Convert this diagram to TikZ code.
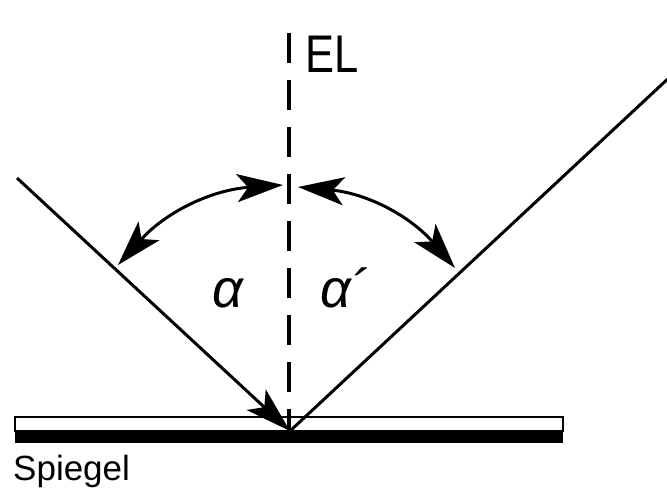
\documentclass[tikz,border=0pt]{standalone}
\usepackage{fontspec}
\setmainfont{Liberation Sans}
\usetikzlibrary{arrows.meta,calc}
\begin{document}
\begin{tikzpicture}[x=1pt,y=1pt,
  ray/.style={line width=3pt},
  bigtip/.style={-{Stealth[length=46pt,width=28pt,inset=11pt]}},
  bothtip/.style={{Stealth[length=46pt,width=28pt,inset=11pt]}-{Stealth[length=46pt,width=28pt,inset=11pt]}},
  normal/.style={line width=3.2pt,dash pattern=on 30pt off 17pt},
  lbl/.style={inner sep=0pt,anchor=base west}]
\useasboundingbox (0,0) rectangle (667,496);
\clip (0,0) rectangle (667,496);
% mirror
\fill[black] (15,53) rectangle (563,66);
\draw[line width=2.4pt,fill=white] (15,65) rectangle (563,79);
% points
\coordinate (R) at (290,65);
\coordinate (A) at (17,318);
\coordinate (B) at (672,421);
\coordinate (N) at (289,463);
\coordinate (L1) at (118,231);
\coordinate (L2) at (283,311);
\coordinate (R1) at (298,309);
\coordinate (R2) at (455,228);
% normal
\draw[normal] (N) -- (289,65);
% rays
\draw[ray,bigtip] (A) -- (R);
\draw[ray] (R) -- (B);
% angle arcs
\draw[ray,bothtip] (L1) to[bend left=22] (L2);
\draw[ray,bothtip] (R1) to[bend left=22] (R2);
% labels
\node[lbl] (el) at (305,423) {\fontsize{53}{53}\selectfont\scalebox{0.82}[1]{EL}};
\node[lbl] (a1) at (212,188) {\fontsize{54}{54}\selectfont\itshape α};
\node[lbl] (a2) at (320,188) {\fontsize{54}{54}\selectfont\itshape α´};
\node[lbl] (sp) at (13,16) {\fontsize{35}{35}\selectfont Spiegel};
\end{tikzpicture}
\end{document}
